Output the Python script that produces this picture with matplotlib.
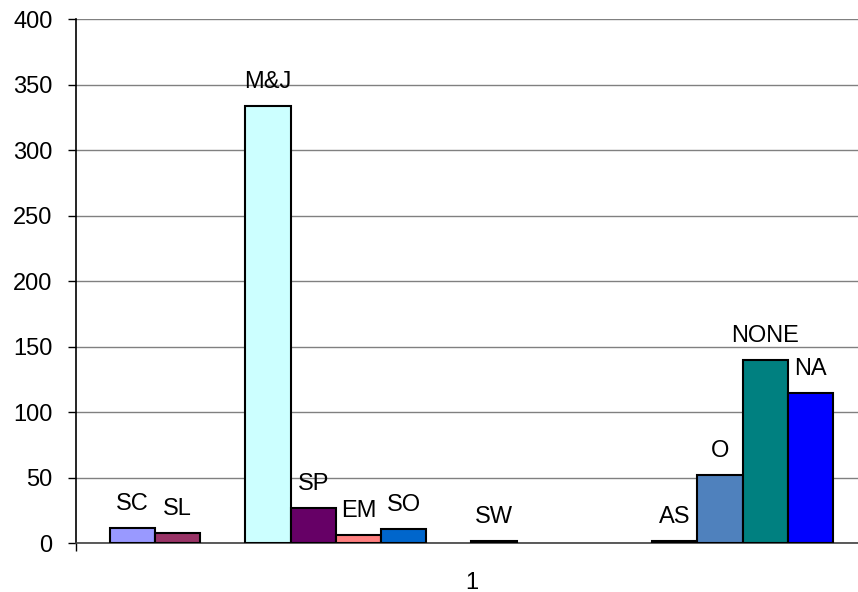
import numpy as np
import matplotlib
matplotlib.use("Agg")
import matplotlib.pyplot as plt

# Series (one per slot in the single category "1"); unnamed slots hold no value
series_names = ["SC", "SL", "", "M&J", "SP", "EM", "SO", "", "SW", "", "", "", "AS", "O", "NONE", "NA"]
series_values = [12, 8, np.nan, 334, 27, 6, 11, np.nan, 2, np.nan, np.nan, np.nan, 2, 52, 140, 115]
series_colors = ["#9999FF", "#993366", "#FFFFFF", "#CCFFFF", "#660066", "#FF8080", "#0066CC", "#FFFFFF",
                 "#000000", "#FFFFFF", "#FFFFFF", "#FFFFFF", "#FF9900", "#4F81BD", "#008080", "#0000FF"]
category_label = "1"
y_ticks = [0, 50, 100, 150, 200, 250, 300, 350, 400]

plt.rcParams['font.family'] = ['Liberation Sans', 'DejaVu Sans']
FS = 17

fig = plt.figure(figsize=(8.58, 5.92), dpi=100)
ax = fig.add_axes([76/858, 1 - 543.3/592, (867 - 76)/858, (543.3 - 19.3)/592])

n = len(series_names)
for i, (name, val, col) in enumerate(zip(series_names, series_values, series_colors)):
    if np.isnan(val):
        continue
    ax.bar(i, val, width=1.0, color=col, edgecolor="black", linewidth=1.5, zorder=3)
    if name:
        ax.annotate(name, (i, val), xytext=(0, 18), textcoords="offset pixels",
                    ha="center", va="baseline", fontsize=FS, zorder=4)

gap = 0.75
ax.set_xlim(-0.5 - gap, n - 0.5 + gap)
ax.set_ylim(0, 400)
ax.set_yticks(y_ticks)
ax.tick_params(axis="y", direction="out", length=6, width=1, labelsize=FS, pad=11, color="black")
ax.yaxis.grid(True, color="#808080", linewidth=1, zorder=0)

# category boundary ticks and centered category label
ax.set_xticks([-0.5 - gap, n - 0.5 + gap])
ax.set_xticklabels(["", ""])
ax.tick_params(axis="x", which="major", direction="out", length=6, width=1, color="black")
ax.set_xticks([(n - 1) / 2], minor=True)
ax.set_xticklabels([category_label], minor=True)
ax.tick_params(axis="x", which="minor", length=0, labelsize=FS, pad=21)

for s in ["top", "right"]:
    ax.spines[s].set_visible(False)
ax.spines["left"].set_color("black")
ax.spines["left"].set_linewidth(1.2)
ax.spines["bottom"].set_color("#404040")
ax.spines["bottom"].set_linewidth(1.2)
ax.set_axisbelow(True)

fig.savefig("out.png", dpi=100)
